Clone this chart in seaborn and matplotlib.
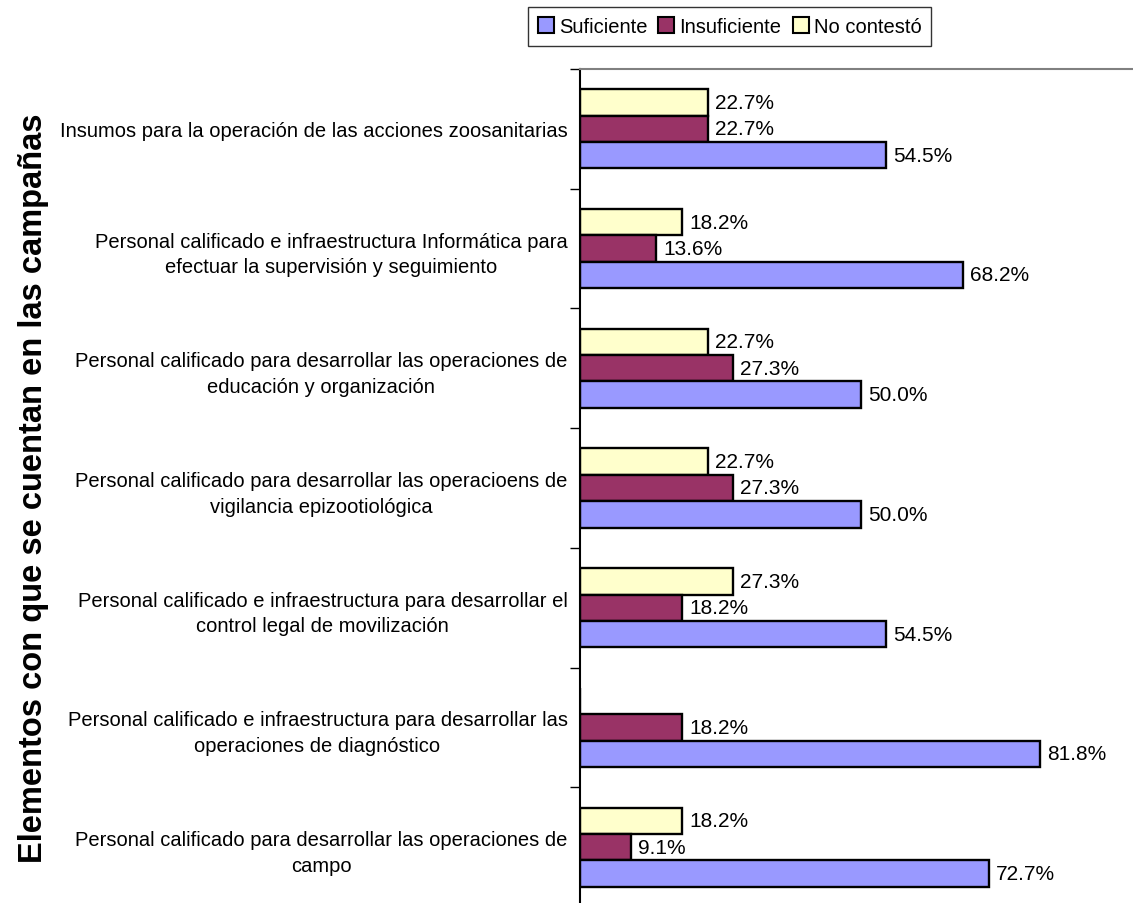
"""
Elementos con que se cuentan en las campañas - barras horizontales agrupadas
"""

import numpy as np
import pandas as pd
import matplotlib.pyplot as plt
import seaborn as sns
from matplotlib.patches import Patch
from matplotlib.ticker import FixedLocator

# Datos (de arriba hacia abajo)
categorias = [
    "Insumos para la operación de las acciones zoosanitarias",
    "Personal calificado e infraestructura Informática para\nefectuar la supervisión y seguimiento",
    "Personal calificado para desarrollar las operaciones de\neducación y organización",
    "Personal calificado para desarrollar las operacioens de\nvigilancia epizootiológica",
    "Personal calificado e infraestructura para desarrollar el\ncontrol legal de movilización",
    "Personal calificado e infraestructura para desarrollar las\noperaciones de diagnóstico",
    "Personal calificado para desarrollar las operaciones de\ncampo",
]
suficiente = [54.5, 68.2, 50.0, 50.0, 54.5, 81.8, 72.7]
insuficiente = [22.7, 13.6, 27.3, 27.3, 18.2, 18.2, 9.1]
no_contesto = [22.7, 18.2, 22.7, 22.7, 27.3, 0.0, 18.2]

orden_barras = ["No contestó", "Insuficiente", "Suficiente"]
orden_leyenda = ["Suficiente", "Insuficiente", "No contestó"]
colores = {"Suficiente": "#9999FF", "Insuficiente": "#993366", "No contestó": "#FFFFCC"}

df = pd.DataFrame({
    "Elemento": categorias * 3,
    "Respuesta": ["No contestó"] * 7 + ["Insuficiente"] * 7 + ["Suficiente"] * 7,
    "Porcentaje": no_contesto + insuficiente + suficiente,
})

sns.set_style("white")
plt.rcParams["font.family"] = ["Liberation Sans", "DejaVu Sans"]
plt.rcParams["text.color"] = "black"
plt.rcParams["axes.labelcolor"] = "black"
plt.rcParams["ytick.color"] = "black"

fig = plt.figure(figsize=(11.33, 9.04), dpi=100)
ax = fig.add_axes([580 / 1133, -4 / 904, 562 / 1133, 838 / 904])

sns.barplot(
    data=df, y="Elemento", x="Porcentaje", hue="Respuesta",
    hue_order=orden_barras, order=categorias, palette=colores, orient="h",
    width=0.66, edgecolor="black", linewidth=1.7, errorbar=None,
    saturation=1, legend=False, ax=ax,
)

# Etiquetas de valor
for cont in ax.containers:
    vals = cont.datavalues
    etiquetas = [f"{v:.1f}%" if v > 0 else "" for v in vals]
    ax.bar_label(cont, labels=etiquetas, padding=5, fontsize=15)

ax.set_xlim(0, 100)
ax.set_xticks([])
ax.set_xlabel("")

# Marcas en los límites de cada categoría
ax.yaxis.set_minor_locator(FixedLocator(np.arange(-0.5, 7, 1)))
ax.tick_params(axis="y", which="major", length=0, pad=9, labelsize=14.5)
ax.tick_params(axis="y", which="minor", length=7, width=1, direction="out", color="black", left=True)
for t in ax.get_yticklabels():
    t.set_multialignment("center")
    t.set_linespacing(1.45)

ax.set_ylabel("Elementos con que se cuentan en las campañas", fontsize=23.5, fontweight="bold")
ax.yaxis.set_label_coords(-0.945, 0.501)

ax.spines["top"].set_color("#808080")
ax.spines["top"].set_linewidth(1.5)
ax.spines["left"].set_color("black")
ax.spines["left"].set_linewidth(1.5)
ax.spines["right"].set_visible(False)
ax.spines["bottom"].set_visible(False)

handles = [Patch(facecolor=colores[s], edgecolor="black", linewidth=1.5, label=s) for s in orden_leyenda]
leg = fig.legend(
    handles=handles, loc="center", bbox_to_anchor=(729.5 / 1133, 1 - 27.5 / 904),
    ncol=3, fontsize=14.5, frameon=True, fancybox=False, edgecolor="black",
    handlelength=0.8, handleheight=0.8, handletextpad=0.25, columnspacing=0.55,
    borderpad=0.5,
)
leg.get_frame().set_linewidth(1.0)

plt.savefig("out.png", dpi=100)
